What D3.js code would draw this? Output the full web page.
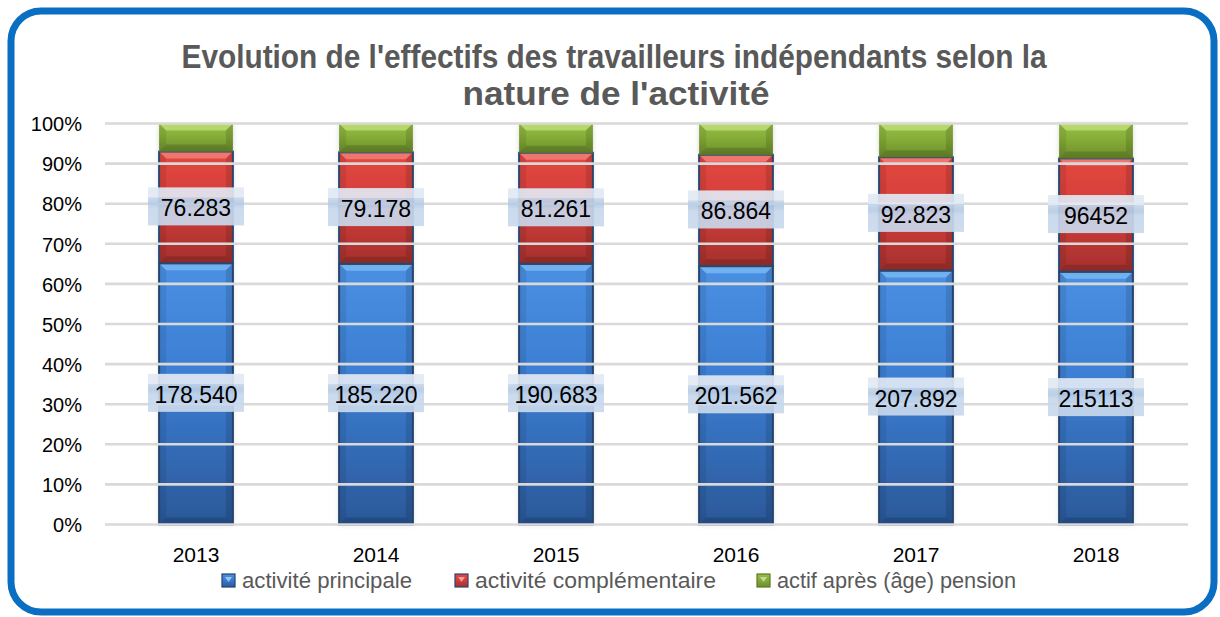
<!DOCTYPE html>
<html><head><meta charset="utf-8">
<script src="https://cdn.jsdelivr.net/npm/d3@7"></script>
<style>body{margin:0;background:#fff}svg{display:block}</style>
</head><body>
<svg id="c" width="1220" height="617"></svg>
<script>
const years = ["2013","2014","2015","2016","2017","2018"];
const principale = [178540,185220,190683,201562,207892,215113];
const complementaire = [76283,79178,81261,86864,92823,96452];
const apresPension = [19180,20513,21400,24400,27600,29700];
const labelsPrincipale = ["178.540","185.220","190.683","201.562","207.892","215113"];
const labelsComplementaire = ["76.283","79.178","81.261","86.864","92.823","96452"];
const seriesNames = ["activité principale","activité complémentaire","actif après (âge) pension"];
const yTicks = [0,0.1,0.2,0.3,0.4,0.5,0.6,0.7,0.8,0.9,1];
const titleLines = ["Evolution de l'effectifs des travailleurs indépendants selon la","nature de l'activité"];

const svg = d3.select("#c");
const defs = svg.append("defs");
const pal = [
  {id:"gB", top:"#4a90e2", mid:"#3b7dd2", bot:"#2b5898", stroke:"#24436f", bevel:"#8fd0ff"},
  {id:"gR", top:"#e2473f", mid:"#d43f3a", bot:"#a5302d", stroke:"#2a4670", bevel:"#ff9a96"},
  {id:"gG", top:"#97bf45", mid:"#86ad38", bot:"#6c8e2b", stroke:"none", bevel:"#d6f08a"}
];
pal.forEach(p=>{
  const g = defs.append("linearGradient").attr("id",p.id).attr("x1",0).attr("y1",0).attr("x2",0).attr("y2",1);
  g.append("stop").attr("offset","0%").attr("stop-color",p.top);
  g.append("stop").attr("offset","45%").attr("stop-color",p.mid);
  g.append("stop").attr("offset","100%").attr("stop-color",p.bot);
});
const lg = defs.append("linearGradient").attr("id","lbl").attr("x1",0).attr("y1",0).attr("x2",0).attr("y2",1);
[["0%","#e1e9f4"],["26%","#e1e9f4"],["27%","#c6d6ea"],["42%","#b6cbe4"],["55%","#c7d7eb"],["100%","#c9d9ec"]].forEach(s=>lg.append("stop").attr("offset",s[0]).attr("stop-color",s[1]));
const f = defs.append("filter").attr("id","sh").attr("x","-20%").attr("y","-5%").attr("width","140%").attr("height","110%");
f.append("feDropShadow").attr("dx",0).attr("dy",0).attr("stdDeviation",2.5).attr("flood-color","#888").attr("flood-opacity",0.35);

// border
svg.append("rect").attr("x",11).attr("y",11).attr("width",1203).attr("height",601)
  .attr("rx",30).attr("ry",30).attr("fill","#fff").attr("stroke","#0a6fc2").attr("stroke-width",7);

// title
svg.append("text").attr("x",614).attr("y",68).attr("text-anchor","middle")
  .attr("font-family","Liberation Sans, Arial, sans-serif").attr("font-weight","bold").attr("font-size",33)
  .attr("fill","#595959").attr("textLength",865).attr("lengthAdjust","spacingAndGlyphs").text(titleLines[0]);
svg.append("text").attr("x",616).attr("y",105).attr("text-anchor","middle")
  .attr("font-family","Liberation Sans, Arial, sans-serif").attr("font-weight","bold").attr("font-size",33)
  .attr("fill","#595959").attr("textLength",307).attr("lengthAdjust","spacingAndGlyphs").text(titleLines[1]);

const x = d3.scaleBand().domain(years).range([106,1186]).paddingInner(0.59).paddingOuter(0.295);
const y = d3.scaleLinear().domain([0,1]).range([524.5,123.5]);

const data = years.map((yr,i)=>{
  const tot = principale[i]+complementaire[i]+apresPension[i];
  return {yr, tot, vals:[principale[i],complementaire[i],apresPension[i]]};
});
const stack = d3.stack().keys([0,1,2]).value((d,k)=>d.vals[k]/d.tot)(data);

// y axis labels
const yAxis = d3.axisLeft(y).tickValues(yTicks).tickFormat(d3.format(".0%")).tickSize(0).tickPadding(0);
const ya = svg.append("g").attr("transform","translate(82,0)").call(yAxis);
ya.select(".domain").remove();
ya.selectAll("text").attr("font-family","Liberation Sans, Arial, sans-serif").attr("font-size",20).attr("fill","#000").attr("dy","0.36em");

// bars
const bg = svg.append("g");
stack.forEach((layer,k)=>{
  const p = pal[k];
  layer.forEach((s,i)=>{
    const x0 = x(years[i]), w = x.bandwidth();
    const yt = y(s[1]), yb = y(s[0]), h = yb-yt;
    const g = bg.append("g");
    g.append("rect").attr("x",x0).attr("y",yt).attr("width",w).attr("height",h)
      .attr("fill",`url(#${p.id})`).attr("filter","url(#sh)");
    const b = 7;
    g.append("polygon").attr("points",`${x0},${yt} ${x0+w},${yt} ${x0+w-b},${yt+b} ${x0+b},${yt+b}`)
      .attr("fill",p.bevel).attr("opacity",0.55);
    g.append("polygon").attr("points",`${x0},${yt} ${x0+b},${yt+b} ${x0+b},${yb-b} ${x0},${yb}`)
      .attr("fill","#000").attr("opacity",0.08);
    g.append("polygon").attr("points",`${x0+w},${yt} ${x0+w-b},${yt+b} ${x0+w-b},${yb-b} ${x0+w},${yb}`)
      .attr("fill","#000").attr("opacity",0.12);
    g.append("polygon").attr("points",`${x0},${yb} ${x0+b},${yb-b} ${x0+w-b},${yb-b} ${x0+w},${yb}`)
      .attr("fill","#000").attr("opacity",0.15);
    if(p.stroke!=="none"){
      g.append("rect").attr("x",x0).attr("y",yt).attr("width",w).attr("height",h)
        .attr("fill","none").attr("stroke",p.stroke).attr("stroke-width",2);
    }
  });
});

// gridlines over bars
svg.append("g").selectAll("line").data(yTicks).join("line")
  .attr("x1",105).attr("x2",1188).attr("y1",d=>y(d)).attr("y2",d=>y(d))
  .attr("stroke","#d9d9d9").attr("stroke-width",2.6);

// data labels
const lblG = svg.append("g");
[[0,labelsPrincipale],[1,labelsComplementaire]].forEach(([k,labels])=>{
  stack[k].forEach((s,i)=>{
    const cx = x(years[i])+x.bandwidth()/2;
    const cy = y((s[0]+s[1])/2);
    lblG.append("rect").attr("x",cx-48).attr("y",cy-20).attr("width",96).attr("height",38)
      .attr("fill","url(#lbl)").attr("opacity",0.92);
    lblG.append("text").attr("x",cx).attr("y",cy+9).attr("text-anchor","middle")
      .attr("font-family","Liberation Sans, Arial, sans-serif").attr("font-size",23).attr("fill","#000")
      .text(labels[i]);
  });
});

// x axis labels
const xAxis = d3.axisBottom(x).tickSize(0).tickPadding(0);
const xa = svg.append("g").attr("transform","translate(0,547)").call(xAxis);
xa.select(".domain").remove();
xa.selectAll("text").attr("font-family","Liberation Sans, Arial, sans-serif").attr("font-size",21).attr("fill","#000");

// legend
const legX = [222,455,757];
const legW = [170,241,239];
const leg = svg.append("g");
seriesNames.forEach((n,k)=>{
  const p = pal[k];
  leg.append("rect").attr("x",legX[k]).attr("y",574).attr("width",13).attr("height",13)
    .attr("fill",`url(#${p.id})`).attr("stroke",k<2?p.stroke:"#5d7a25").attr("stroke-width",1.2);
  leg.append("polygon").attr("points",`${legX[k]+3},${577} ${legX[k]+10},${577} ${legX[k]+6.5},${582}`)
    .attr("fill","#fff").attr("opacity",0.5);
  leg.append("text").attr("x",legX[k]+20).attr("y",588)
    .attr("font-family","Liberation Sans, Arial, sans-serif").attr("font-size",22).attr("fill","#595959")
    .attr("textLength",legW[k]).attr("lengthAdjust","spacingAndGlyphs").text(n);
});
</script>
</body></html>
